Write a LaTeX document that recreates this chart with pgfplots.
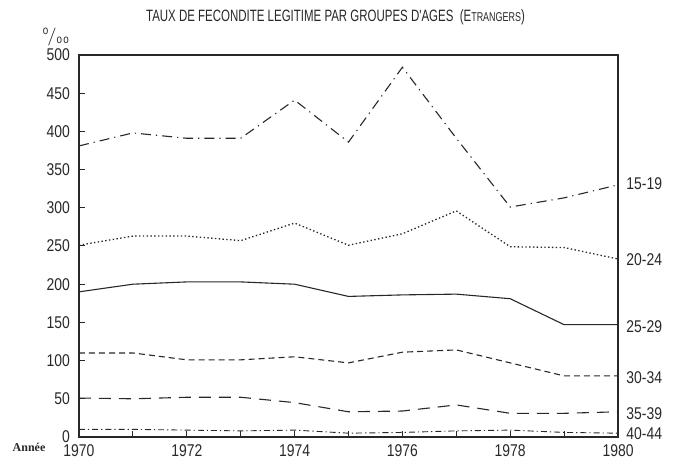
\documentclass[border=0pt]{standalone}
\usepackage{fontspec}
\setmainfont{Liberation Sans}[FakeStretch=0.82]
\newfontfamily\titlefont{Liberation Sans}[FakeStretch=0.7]
\newfontfamily\anneefont{Liberation Serif}
\usepackage{pgfplots}
\pgfplotsset{compat=1.18}
\definecolor{Ink}{RGB}{40,40,40}

\pgfplotstableread{
year  a  b  c  d  e  f
1970 381 251 190 110 51 10
1971 398 263 200 110 50 10
1972 391 263 203 101 52  9
1973 391 257 203 101 52  8
1974 441 280 200 105 45  9
1975 386 251 184  97 33  5
1976 484 266 186 111 34  6
1977 391 296 187 114 42  8
1978 301 249 181  97 31  9
1979 313 248 147  80 31  6
1980 330 233 147  80 33  5
}\fec

\begin{document}
\begin{tikzpicture}
\useasboundingbox (-39.5pt,-13.5pt) rectangle (300pt,218.5pt);
\begin{axis}[
  at={(0,0)}, anchor=south west,
  scale only axis,
  width=269.5pt, height=191pt,
  xmin=1970, xmax=1980, ymin=0, ymax=500,
  xtick={1970,1972,...,1980},
  minor xtick={1971,1973,...,1979},
  ytick={0,50,...,500},
  xtick pos=bottom, ytick pos=left,
  tick align=inside,
  major tick length=3pt, minor tick length=3pt,
  every tick/.style={Ink, line width=0.5pt},
  axis line style={Ink, line width=0.8pt},
  /pgf/number format/assume math mode=true,
  /pgf/number format/1000 sep={},
  tick label style={font=\fontsize{8.5}{10}\selectfont, text=Ink},
  yticklabel style={xshift=-1pt},
  xticklabel style={yshift=-0.5pt},
  clip=false,
  every axis plot/.append style={Ink, line width=0.55pt},
]
\addplot[dash pattern=on 5pt off 2.5pt on 0.6pt off 2.5pt] table[x=year,y=a] {\fec};
\addplot[dash pattern=on 0.7pt off 1.2pt, line width=0.65pt] table[x=year,y=b] {\fec};
\addplot[solid] table[x=year,y=c] {\fec};
\addplot[dash pattern=on 3pt off 2pt] table[x=year,y=d] {\fec};
\addplot[dash pattern=on 6pt off 4pt] table[x=year,y=e] {\fec};
\addplot[dash pattern=on 3pt off 1.5pt on 0.6pt off 1.5pt, line width=0.45pt] table[x=year,y=f] {\fec};

\begin{scope}[every node/.style={anchor=west, font=\fontsize{8.5}{10}\selectfont, text=Ink, inner sep=0pt}]
\node at ([xshift=4pt]axis cs:1980,331) {15-19};
\node at ([xshift=4pt]axis cs:1980,232) {20-24};
\node at ([xshift=4pt]axis cs:1980,144) {25-29};
\node at ([xshift=4pt]axis cs:1980,78) {30-34};
\node at ([xshift=4pt]axis cs:1980,31) {35-39};
\node at ([xshift=4pt]axis cs:1980,4) {40-44};
\end{scope}

\node[font=\titlefont\fontsize{8.2}{9}\selectfont, text=Ink] at ([xshift=-6.5pt,yshift=19pt]rel axis cs:0.5,1)
  {TAUX DE FECONDITE LEGITIME PAR GROUPES D'AGES\ \ (E{\fontsize{6.4}{7}\selectfont TRANGERS})};
\node[font=\fontsize{9}{10}\selectfont, text=Ink] at ([xshift=-11pt,yshift=9pt]rel axis cs:0,1)
  {$^{\mathrm{o}}\!/_{\mathrm{oo}}$};
\node[font=\anneefont\fontsize{6}{7}\selectfont\bfseries, text=Ink] at ([xshift=-25pt,yshift=-5pt]rel axis cs:0,0) {Année};
\end{axis}
\end{tikzpicture}
\end{document}
